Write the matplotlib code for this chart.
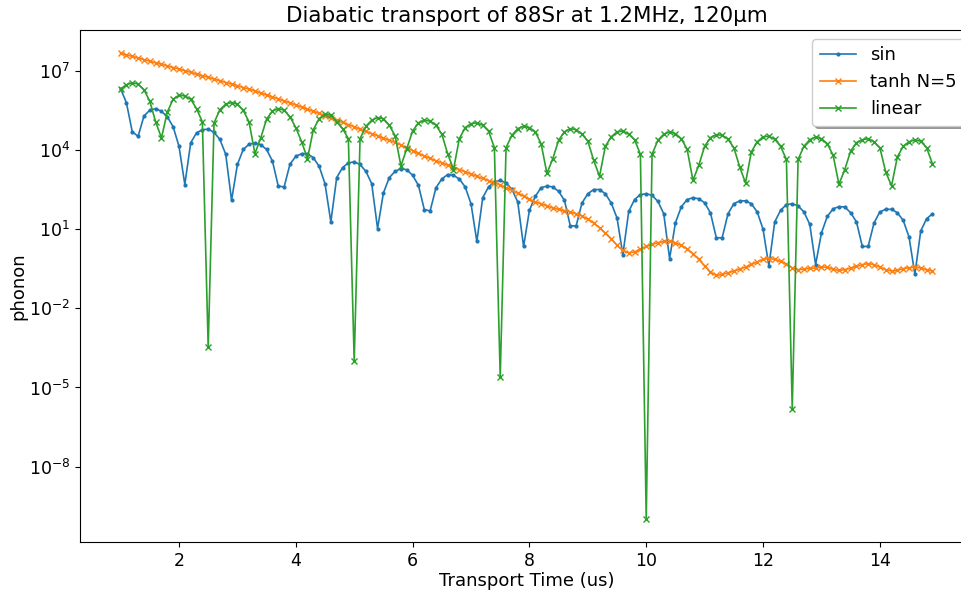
import numpy as np
import matplotlib
matplotlib.use("Agg")
import matplotlib.pyplot as plt
from matplotlib.ticker import NullLocator

# Transport times (us): 140 samples from 1.0 to 14.9
transport_time = np.linspace(1.0, 14.9, 140)

# Final phonon number, stored as log10 values
sin_log10 = [
    6.34, 5.80, 4.70, 4.53, 5.30, 5.52, 5.58, 5.48, 5.27, 4.89,
    4.15, 2.70, 4.28, 4.66, 4.78, 4.80, 4.68, 4.41, 3.85, 2.10,
    3.46, 4.03, 4.23, 4.28, 4.21, 4.03, 3.59, 2.64, 2.61, 3.47,
    3.77, 3.87, 3.87, 3.72, 3.39, 2.73, 1.28, 2.96, 3.34, 3.52,
    3.56, 3.46, 3.20, 2.73, 1.03, 2.38, 2.96, 3.20, 3.30, 3.26,
    3.05, 2.67, 1.75, 1.70, 2.58, 2.91, 3.08, 3.05, 2.91, 2.61,
    1.97, 0.54, 2.20, 2.61, 2.80, 2.86, 2.76, 2.52, 2.04, 0.35,
    1.72, 2.25, 2.58, 2.64, 2.61, 2.44, 2.10, 1.13, 1.13, 2.00,
    2.35, 2.51, 2.51, 2.35, 2.00, 1.43, 0.04, 1.68, 2.13, 2.32,
    2.35, 2.29, 2.06, 1.59, -0.11, 1.25, 1.85, 2.13, 2.20, 2.16,
    2.01, 1.62, 0.68, 0.68, 1.59, 1.97, 2.08, 2.08, 1.97, 1.66,
    1.01, -0.39, 1.28, 1.72, 1.94, 1.97, 1.89, 1.66, 1.19, -0.34,
    0.86, 1.49, 1.78, 1.86, 1.85, 1.63, 1.28, 0.35, 0.35, 1.24,
    1.66, 1.76, 1.76, 1.63, 1.34, 0.71, -0.71, 0.94, 1.40, 1.59,
]

tanh_log10 = [
    7.68, 7.62, 7.56, 7.50, 7.44, 7.38, 7.32, 7.26, 7.20, 7.14,
    7.08, 7.02, 6.96, 6.89, 6.83, 6.77, 6.70, 6.64, 6.57, 6.51,
    6.45, 6.38, 6.32, 6.25, 6.17, 6.10, 6.02, 5.95, 5.87, 5.80,
    5.72, 5.64, 5.56, 5.48, 5.40, 5.31, 5.23, 5.14, 5.06, 4.97,
    4.89, 4.80, 4.72, 4.63, 4.55, 4.46, 4.38, 4.30, 4.20, 4.09,
    3.99, 3.88, 3.78, 3.69, 3.60, 3.52, 3.44, 3.36, 3.27, 3.18,
    3.10, 3.01, 2.93, 2.85, 2.77, 2.68, 2.58, 2.48, 2.37, 2.26,
    2.14, 2.04, 1.97, 1.89, 1.81, 1.76, 1.71, 1.66, 1.59, 1.51,
    1.38, 1.24, 1.06, 0.86, 0.65, 0.39, 0.20, 0.11, 0.14, 0.24,
    0.35, 0.43, 0.49, 0.54, 0.54, 0.49, 0.39, 0.26, 0.08, -0.14,
    -0.39, -0.62, -0.75, -0.71, -0.65, -0.58, -0.51, -0.43, -0.33, -0.24,
    -0.14, -0.11, -0.14, -0.22, -0.33, -0.46, -0.53, -0.51, -0.48, -0.47,
    -0.43, -0.44, -0.51, -0.56, -0.53, -0.47, -0.41, -0.34, -0.30, -0.34,
    -0.43, -0.53, -0.58, -0.56, -0.49, -0.46, -0.43, -0.47, -0.53, -0.58,
]

linear_log10 = [
    6.32, 6.49, 6.56, 6.51, 6.30, 5.86, 5.08, 4.47, 5.45, 5.94,
    6.09, 6.06, 5.94, 5.58, 5.08, -3.48, 5.04, 5.54, 5.75, 5.81,
    5.75, 5.52, 5.07, 3.87, 4.47, 5.18, 5.49, 5.58, 5.52, 5.27,
    4.86, 4.32, 3.68, 4.78, 5.20, 5.37, 5.33, 5.08, 4.82, 4.44,
    -4.01, 4.44, 4.91, 5.14, 5.24, 5.20, 4.95, 4.55, 3.41, 4.06,
    4.73, 5.04, 5.14, 5.11, 4.95, 4.61, 3.87, 3.27, 4.44, 4.86,
    5.01, 5.04, 4.95, 4.73, 4.10, -4.62, 4.10, 4.57, 4.82, 4.91,
    4.86, 4.70, 4.25, 3.12, 3.68, 4.38, 4.70, 4.82, 4.78, 4.61,
    4.35, 3.62, 3.01, 4.15, 4.51, 4.70, 4.73, 4.61, 4.40, 3.85,
    -9.98, 3.85, 4.38, 4.61, 4.70, 4.63, 4.44, 4.04, 2.86, 3.43,
    4.15, 4.48, 4.59, 4.57, 4.42, 4.10, 3.37, 2.76, 3.94, 4.32,
    4.51, 4.53, 4.42, 4.15, 3.65, -5.80, 3.65, 4.15, 4.40, 4.51,
    4.44, 4.25, 3.81, 2.71, 3.27, 3.97, 4.29, 4.40, 4.44, 4.32,
    4.10, 3.18, 2.65, 3.75, 4.15, 4.32, 4.40, 4.34, 4.10, 3.49,
]

series_labels = ["sin", "tanh N=5", "linear"]
y_ticks = [1e-8, 1e-5, 1e-2, 1e1, 1e4, 1e7]

plt.rcParams["font.size"] = 13

fig = plt.figure(figsize=(9.61, 5.90), dpi=100)
# the axes runs a little past the right edge of the canvas
ax = fig.add_axes([80 / 961, 48 / 590, 893 / 961, 512 / 590])

ax.plot(transport_time, 10.0 ** np.array(sin_log10), marker=".", markersize=4,
        linewidth=1.2, color="#1f77b4", label=series_labels[0])
ax.plot(transport_time, 10.0 ** np.array(tanh_log10), marker="x", markersize=4,
        linewidth=1.2, color="#ff7f0e", label=series_labels[1])
ax.plot(transport_time, 10.0 ** np.array(linear_log10), marker="x", markersize=4,
        linewidth=1.2, color="#2ca02c", label=series_labels[2])

ax.set_yscale("log")
ax.set_yticks(y_ticks)
ax.yaxis.set_minor_locator(NullLocator())
ax.tick_params(labelsize=12.5)

ax.set_xlabel("Transport Time (us)", fontsize=13, labelpad=1.5)
ax.set_ylabel("phonon", fontsize=13, labelpad=1)
ax.set_title("Diabatic transport of 88Sr at 1.2MHz, 120μm", fontsize=15.4)
ax.legend(loc="upper right", shadow=True, fontsize=13)

fig.savefig("out.png", dpi=100)
